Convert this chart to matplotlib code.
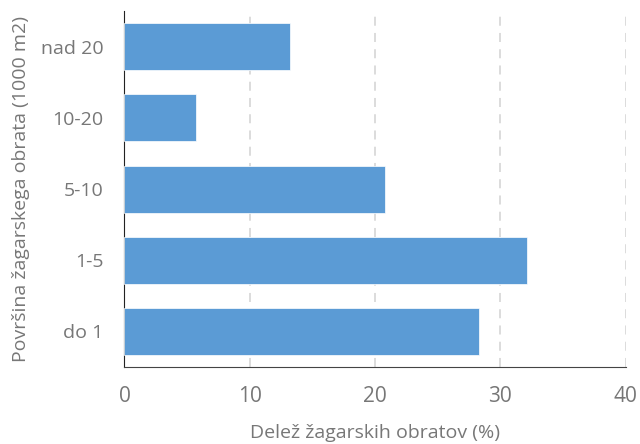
"""
Delez zagarskih obratov po povrsini
"""

import matplotlib.pyplot as plt
import numpy as np

categories = ["do 1", "1-5", "5-10", "10-20", "nad 20"]
shares = [28.3, 32.1, 20.8, 5.7, 13.2]

plt.rcParams["font.family"] = ["Open Sans", "DejaVu Sans"]

fig = plt.figure(figsize=(6.4, 4.44), dpi=100)
ax = fig.add_axes([0.1945, 0.1734, 0.7832, 0.8018])

y = np.arange(len(categories))
ax.barh(y, shares, height=0.66, color="#5B9BD5", edgecolor="white", linewidth=0.5, zorder=3)

ax.set_xlim(0, 40)
ax.set_ylim(-0.5, len(categories) - 0.5)
ax.set_xticks([0, 10, 20, 30, 40])
ax.set_yticks(y)
ax.set_yticklabels(categories)

ax.grid(axis="x", color="#d9d9d9", linestyle=(0, (5, 4)), linewidth=1.3, zorder=0)
ax.set_axisbelow(True)

for s in ["top", "right"]:
    ax.spines[s].set_visible(False)
ax.spines["left"].set_color("#222222")
ax.spines["bottom"].set_color("#444444")

ax.tick_params(axis="both", length=0, labelsize=14, colors="#777777")
ax.tick_params(axis="x", labelsize=15, pad=14)
ax.tick_params(axis="y", pad=15)

ax.set_xlabel("Delež žagarskih obratov (%)", fontsize=14, color="#777777", labelpad=12)
ax.set_ylabel("Površina žagarskega obrata (1000 m2)", fontsize=14, color="#777777", labelpad=8)

fig.savefig("out.png", dpi=100)
